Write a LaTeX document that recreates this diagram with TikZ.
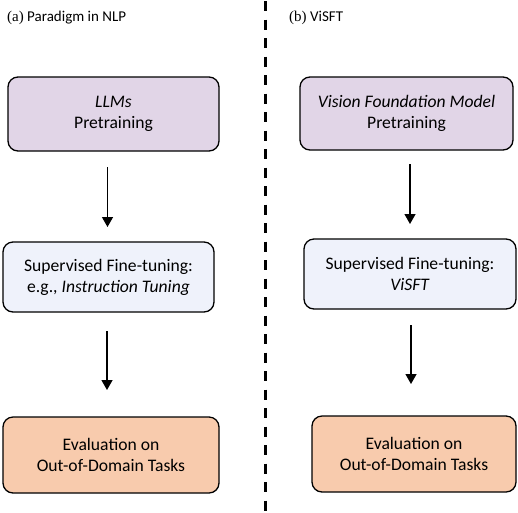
\documentclass[tikz,border=0pt]{standalone}
\usepackage{fontspec}
\setmainfont{Carlito}
\newfontfamily\serifpart{Liberation Serif}
\usetikzlibrary{arrows.meta}
\definecolor{purp}{HTML}{E1D5E7}
\definecolor{lblue}{HTML}{EFF2FB}
\definecolor{orng}{HTML}{F8CBAD}
\tikzset{
  stagebox/.style={draw=black, line width=1.3pt, rounded corners=10pt, align=center, inner sep=0pt, font=\fontsize{17.6}{21}\selectfont},
  flowarrow/.style={line width=1.3pt, -{Triangle[width=11pt,length=10pt]}},
  titletext/.style={anchor=west, inner sep=0pt, font=\fontsize{15}{18}\selectfont},
}
\begin{document}
\begin{tikzpicture}[x=1pt,y=-1pt]
\useasboundingbox (0,0) rectangle (518,512);
% divider
\draw[line width=3pt, dash pattern=on 10pt off 8.5pt] (265.5,1) -- (265.5,512);
% titles
\node[titletext] (ta) at (7,18) {{\serifpart (a)} Paradigm in NLP};
\node[titletext] (tb) at (289,18) {{\serifpart (b)} ViSFT};
% left column
\node[stagebox, fill=purp, minimum width=211pt, minimum height=74pt] (a1) at (113.5,114) {\textit{LLMs}\\Pretraining};
\node[stagebox, fill=lblue, minimum width=211pt, minimum height=70pt] (a2) at (108.5,277) {Supervised Fine-tuning:\\e.g., \textit{Instruction Tuning}};
\node[stagebox, fill=orng, minimum width=216pt, minimum height=76pt] (a3) at (111,455) {Evaluation on\\Out-of-Domain Tasks};
\coordinate (a1s) at (107.5,167);
\coordinate (a1e) at (107.5,227);
\coordinate (a2s) at (107,331);
\coordinate (a2e) at (107,390);
\draw[flowarrow] (a1s) -- (a1e);
\draw[flowarrow] (a2s) -- (a2e);
% right column
\node[stagebox, fill=purp, minimum width=213pt, minimum height=73pt] (b1) at (406.5,113.5) {\textit{Vision Foundation Model}\\Pretraining};
\node[stagebox, fill=lblue, minimum width=212pt, minimum height=70pt] (b2) at (410,274) {Supervised Fine-tuning:\\\textit{ViSFT}};
\node[stagebox, fill=orng, minimum width=204pt, minimum height=76pt] (b3) at (414,454) {Evaluation on\\Out-of-Domain Tasks};
\coordinate (b1s) at (410,164);
\coordinate (b1e) at (410,224);
\coordinate (b2s) at (411,325);
\coordinate (b2e) at (411,384);
\draw[flowarrow] (b1s) -- (b1e);
\draw[flowarrow] (b2s) -- (b2e);
\end{tikzpicture}
\end{document}
